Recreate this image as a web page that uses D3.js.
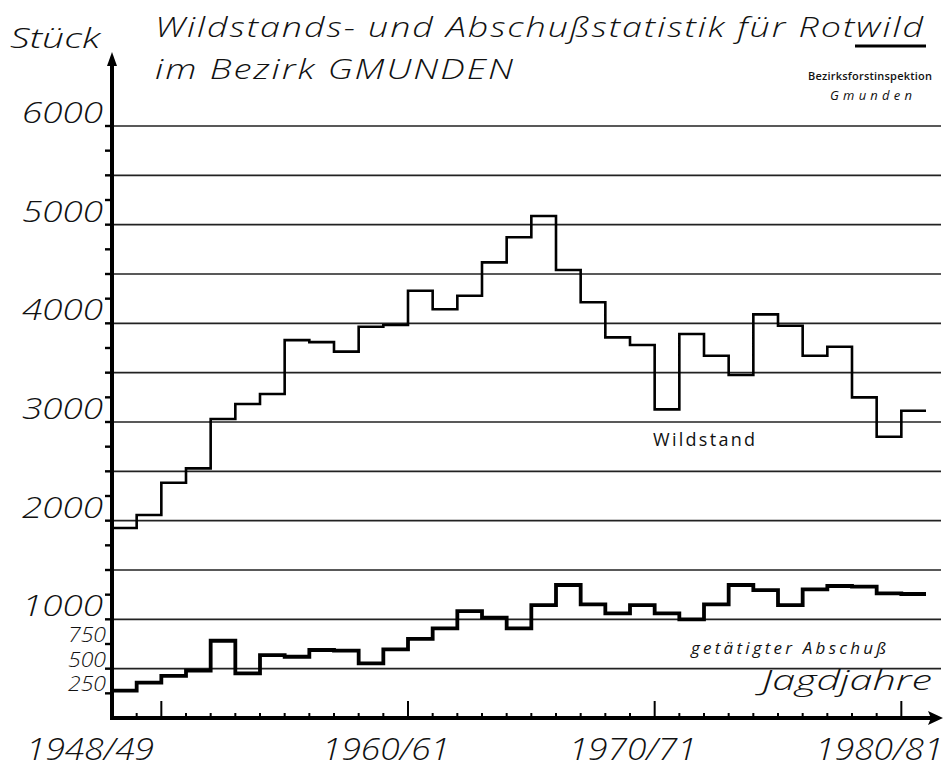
<!DOCTYPE html>
<html>
<head>
<meta charset="utf-8">
<script src="https://cdn.jsdelivr.net/npm/d3@7"></script>
<style>
  body { margin: 0; background: #fff; }
  svg { display: block; }
  .lettering { font-family: "Open Sans", "DejaVu Sans", sans-serif; font-style: italic; font-weight: 300; fill: #111; }
  .hand { font-family: "Open Sans", "DejaVu Sans", sans-serif; fill: #111; }
</style>
</head>
<body>
<div id="chart"></div>
<script>
// Jagdjahre (hunting seasons), start year of each season
const seasons = [1948, 1949, 1950, 1951, 1952, 1953, 1954, 1955, 1956, 1957, 1958,
  1959, 1960, 1961, 1962, 1963, 1964, 1965, 1966, 1967, 1968, 1969, 1970,
  1971, 1972, 1973, 1974, 1975, 1976, 1977, 1978, 1979, 1980];

// Wildstand (Stück)
const wildstand = [1925, 2057, 2385, 2530, 3030, 3182, 3284, 3830, 3810, 3713, 3966,
  3983, 4331, 4142, 4280, 4618, 4872, 5088, 4540, 4213, 3858, 3780, 3128,
  3892, 3672, 3476, 4091, 3976, 3672, 3763, 3250, 2851, 3114];

// getätigter Abschuß (Stück)
const abschuss = [277, 358, 426, 480, 783, 453, 638, 621, 689, 682, 554,
  696, 801, 909, 1084, 1017, 909, 1145, 1348, 1152, 1061, 1145, 1060,
  1000, 1152, 1348, 1297, 1145, 1304, 1338, 1331, 1264, 1257];

const gridValues = [500, 1000, 1500, 2000, 2500, 3000, 3500, 4000, 4500, 5000, 5500, 6000];
const bigLabels = [1000, 2000, 3000, 4000, 5000, 6000];
const smallLabels = [250, 500, 750];
const xLabels = [
  {year: 1948, text: "1948/49"},
  {year: 1960, text: "1960/61"},
  {year: 1970, text: "1970/71"},
  {year: 1980, text: "1980/81"}
];
const longTicks = [1950, 1960, 1970, 1980];

const width = 950, height = 771;
const svg = d3.select("#chart").append("svg")
  .attr("width", width)
  .attr("height", height);

const x = d3.scaleLinear().domain([1948, 1981]).range([112, 926]);
const y = d3.scaleLinear().domain([0, 6000]).range([718, 126]);
const axisX = x(1948), axisY = y(0);

//--------------------------------------------------
// grid lines
//--------------------------------------------------
svg.selectAll(".grid")
  .data(gridValues)
  .enter()
  .append("line")
  .attr("x1", axisX)
  .attr("x2", 941)
  .attr("y1", d => y(d))
  .attr("y2", d => y(d))
  .attr("stroke", "#222")
  .attr("stroke-width", 1.6);

//--------------------------------------------------
// step lines
//--------------------------------------------------
const stepLine = d3.line()
  .x(d => x(d[0]))
  .y(d => y(d[1]))
  .curve(d3.curveStepAfter);

function stepPoints(values) {
  let pts = seasons.map((s, i) => [s, values[i]]);
  pts.push([seasons[seasons.length - 1] + 1, values[values.length - 1]]);
  return pts;
}

svg.append("path")
  .attr("d", stepLine(stepPoints(wildstand)))
  .attr("fill", "none")
  .attr("stroke", "#000")
  .attr("stroke-width", 2.6);

svg.append("path")
  .attr("d", stepLine(stepPoints(abschuss)))
  .attr("fill", "none")
  .attr("stroke", "#000")
  .attr("stroke-width", 3.8);

//--------------------------------------------------
// axes
//--------------------------------------------------
// y ticks every 250
svg.selectAll(".ytick")
  .data(d3.range(250, 6001, 250))
  .enter()
  .append("line")
  .attr("x1", axisX - 7)
  .attr("x2", axisX)
  .attr("y1", d => y(d))
  .attr("y2", d => y(d))
  .attr("stroke", "#000")
  .attr("stroke-width", 2.4);

// x ticks per season
svg.selectAll(".xtick")
  .data(seasons.slice(1))
  .enter()
  .append("line")
  .attr("x1", d => x(d))
  .attr("x2", d => x(d))
  .attr("y1", axisY)
  .attr("y2", d => longTicks.includes(d) ? axisY - 17 : axisY - 5)
  .attr("stroke", "#000")
  .attr("stroke-width", 2);

svg.append("line")
  .attr("x1", axisX).attr("x2", axisX)
  .attr("y1", axisY + 2).attr("y2", 62)
  .attr("stroke", "#000").attr("stroke-width", 4);
svg.append("path")
  .attr("d", `M${axisX - 5},66 L${axisX},52 L${axisX + 5},66 Z`)
  .attr("fill", "#000");

svg.append("line")
  .attr("x1", axisX - 2).attr("x2", 932)
  .attr("y1", axisY).attr("y2", axisY)
  .attr("stroke", "#000").attr("stroke-width", 4);
svg.append("path")
  .attr("d", `M928,711 L943,${axisY} L928,725 L931,${axisY} Z`)
  .attr("fill", "#000");

//--------------------------------------------------
// axis labels
//--------------------------------------------------
svg.selectAll(".ylabel")
  .data(bigLabels)
  .enter()
  .append("text")
  .attr("class", "lettering")
  .attr("x", 103)
  .attr("y", d => y(d) - 3)
  .attr("text-anchor", "end")
  .attr("font-size", 30)
  .attr("textLength", 81)
  .attr("lengthAdjust", "spacingAndGlyphs")
  .text(d => d);

svg.selectAll(".ylabelsmall")
  .data(smallLabels)
  .enter()
  .append("text")
  .attr("class", "lettering")
  .attr("x", 106)
  .attr("y", d => y(d) - 2)
  .attr("text-anchor", "end")
  .attr("font-size", 20)
  .attr("textLength", 38)
  .attr("lengthAdjust", "spacingAndGlyphs")
  .text(d => d);

svg.selectAll(".xlabel")
  .data(xLabels)
  .enter()
  .append("text")
  .attr("class", "lettering")
  .attr("x", d => x(d.year) - 22)
  .attr("y", 760)
  .attr("text-anchor", "middle")
  .attr("font-size", 31)
  .attr("textLength", 128)
  .attr("lengthAdjust", "spacingAndGlyphs")
  .text(d => d.text);

svg.append("text")
  .attr("class", "lettering")
  .attr("x", 10).attr("y", 48)
  .attr("font-size", 28)
  .attr("textLength", 90)
  .attr("lengthAdjust", "spacingAndGlyphs")
  .text("Stück");

//--------------------------------------------------
// titles and notes
//--------------------------------------------------
svg.append("text")
  .attr("class", "lettering")
  .attr("x", 155).attr("y", 37)
  .attr("font-size", 28)
  .attr("letter-spacing", 1.5)
  .attr("textLength", 770)
  .attr("lengthAdjust", "spacingAndGlyphs")
  .text("Wildstands- und Abschußstatistik für Rotwild");
svg.append("line")
  .attr("x1", 855).attr("x2", 926)
  .attr("y1", 46).attr("y2", 46)
  .attr("stroke", "#000").attr("stroke-width", 3);

svg.append("text")
  .attr("class", "lettering")
  .attr("x", 155).attr("y", 79)
  .attr("font-size", 28)
  .attr("letter-spacing", 1.5)
  .attr("textLength", 360)
  .attr("lengthAdjust", "spacingAndGlyphs")
  .text("im Bezirk GMUNDEN");

svg.append("text")
  .attr("class", "hand")
  .attr("x", 808).attr("y", 80)
  .attr("font-size", 11)
  .attr("font-weight", 600)
  .attr("textLength", 124)
  .text("Bezirksforstinspektion");
svg.append("text")
  .attr("class", "hand")
  .attr("x", 830).attr("y", 100)
  .attr("font-size", 13)
  .attr("font-style", "italic")
  .attr("textLength", 82)
  .attr("lengthAdjust", "spacing")
  .text("Gmunden");

svg.append("text")
  .attr("class", "hand")
  .attr("x", 653).attr("y", 446)
  .attr("font-size", 18)
  .attr("textLength", 102)
  .text("Wildstand");

svg.append("text")
  .attr("class", "hand")
  .attr("x", 691).attr("y", 654)
  .attr("font-size", 17)
  .attr("font-style", "italic")
  .attr("textLength", 195)
  .text("getätigter Abschuß");

svg.append("text")
  .attr("class", "lettering")
  .attr("x", 762).attr("y", 690)
  .attr("font-size", 27)
  .attr("textLength", 170)
  .attr("lengthAdjust", "spacingAndGlyphs")
  .text("Jagdjahre");
</script>
</body>
</html>
